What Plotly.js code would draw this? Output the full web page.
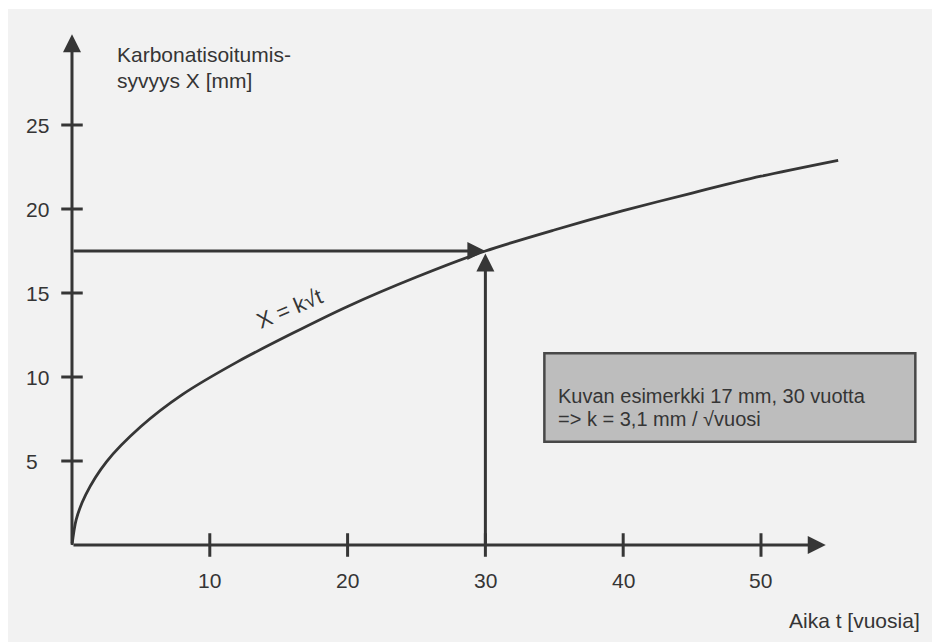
<!DOCTYPE html>
<html>
<head>
<meta charset="utf-8">
<script src="https://cdn.plot.ly/plotly-3.0.1.min.js"></script>
<style>
  html, body { margin: 0; padding: 0; background: #ffffff; }
  #chart { width: 932px; height: 642px; }
</style>
</head>
<body>
<div id="chart"></div>
<script>
// ---- data ----
const curveT = [0, 0.3, 1, 2.5, 5, 8, 12, 16, 20, 25, 30, 35, 40, 45, 50, 55.6];
const curveX = [0, 1.5, 3.0, 4.95, 7.05, 8.95, 10.9, 12.6, 14.2, 15.95, 17.5, 18.75, 19.9, 20.95, 21.95, 22.9];
const tickT = [10, 20, 30, 40, 50];
const tickLabelsT = ['10', '20', '30', '40', '50'];
const tickX = [5, 10, 15, 20, 25];
const tickLabelsX = ['5', '10', '15', '20', '25'];
const exampleT = 30;
const exampleX = 17.5;
const axisEndT = 54.7;
const axisEndX = 30.4;
const yTitleLines = ['Karbonatisoitumis-', 'syvyys X [mm]'];
const xTitle = 'Aika t [vuosia]';
const curveLabel = 'X = k\u221At';
const boxLines = ['Kuvan esimerkki 17 mm, 30 vuotta', '=> k = 3,1 mm / \u221Avuosi'];

// ---- styling ----
const ink = '#363636';
const txt = '#353535';
const fontFam = '"Liberation Sans", Arial, Helvetica, sans-serif';

// tick mark segments
const tkx = [], tky = [];
tickT.forEach(t => { tkx.push(t, t, null); tky.push(-0.7, 0.7, null); });
tickX.forEach(v => { tkx.push(-0.78, 0.78, null); tky.push(v, v, null); });

const traces = [
  { x: curveT, y: curveX, mode: 'lines', line: { color: ink, width: 2.8, shape: 'spline', smoothing: 0.8 }, hoverinfo: 'skip' },
  { x: tkx, y: tky, mode: 'lines', line: { color: ink, width: 3 }, hoverinfo: 'skip' }
];

function arrow(tipX, tipY, tailX, tailY) {
  return { x: tipX, y: tipY, ax: tailX, ay: tailY, xref: 'x', yref: 'y', axref: 'x', ayref: 'y',
           text: '', showarrow: true, arrowhead: 2, arrowsize: 1.2, arrowwidth: 3, arrowcolor: ink, standoff: 0 };
}

const annotations = [
  arrow(axisEndT, 0, 0, 0),
  arrow(0, axisEndX, 0, 0),
  arrow(exampleT, exampleX, 0, exampleX),
  arrow(exampleT, exampleX - 0.15, exampleT, 0)
];

function label(x, y, text, xanchor, size, extra) {
  return Object.assign({ x: x, y: y, xref: 'x', yref: 'y', text: text, showarrow: false,
    xanchor: xanchor, yanchor: 'middle', font: { family: fontFam, size: size, color: txt } }, extra || {});
}

tickT.forEach((t, i) => annotations.push(label(t, -2.1, tickLabelsT[i], 'center', 21)));
tickX.forEach((v, i) => annotations.push(label(-3.48, v, tickLabelsX[i], 'left', 21)));

annotations.push(label(3.1, 29.2, yTitleLines[0], 'left', 21));
annotations.push(label(3.1, 27.65, yTitleLines[1], 'left', 21));
annotations.push(label(61.7, -4.5, xTitle, 'right', 21));
annotations.push(label(15.8, 14.1, curveLabel, 'center', 22, { textangle: -23 }));
annotations.push(label(35.1, 8.87, boxLines[0], 'left', 20));
annotations.push(label(35.1, 7.5, boxLines[1], 'left', 20));

const layout = {
  width: 932, height: 642,
  margin: { l: 8, r: 0, t: 9, b: 0, pad: 0 },
  paper_bgcolor: '#ffffff',
  plot_bgcolor: '#f2f2f2',
  showlegend: false,
  xaxis: { range: [-4.644, 62.41], visible: false, fixedrange: true },
  yaxis: { range: [-5.774, 31.905], visible: false, fixedrange: true },
  shapes: [
    { type: 'rect', xref: 'x', yref: 'y', x0: 34.28, x1: 61.2, y0: 6.15, y1: 11.41,
      fillcolor: '#bdbdbd', line: { color: '#484848', width: 2.5 }, layer: 'below' }
  ],
  annotations: annotations
};

Plotly.newPlot('chart', traces, layout, { displayModeBar: false, staticPlot: true });
</script>
</body>
</html>
